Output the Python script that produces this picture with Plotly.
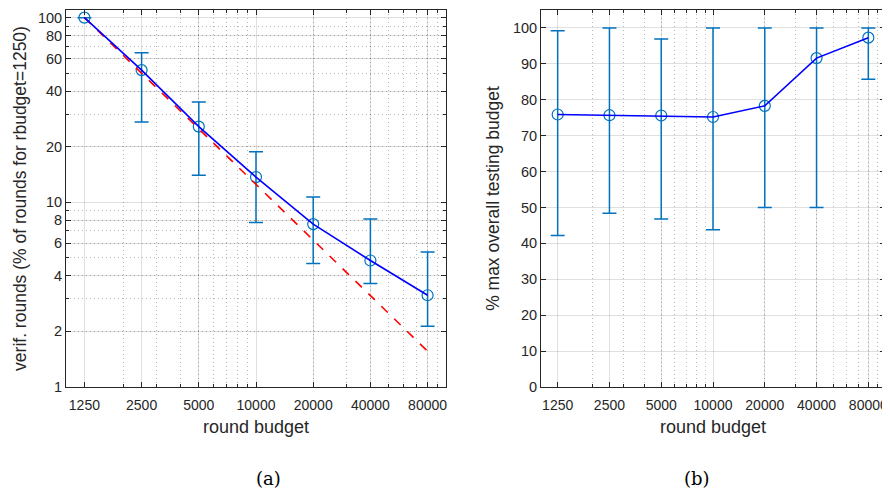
import plotly.graph_objects as go

budgets = [1250, 2500, 5000, 10000, 20000, 40000, 80000]
tick_labels = ["1250", "2500", "5000", "10000", "20000", "40000", "80000"]

# (a) verification rounds, % of rounds for rbudget=1250
rounds_mean = [100, 52, 25.7, 13.7, 7.62, 4.84, 3.14]
rounds_upper = [100, 64.6, 34.9, 18.8, 10.7, 8.11, 5.39]
rounds_lower = [100, 27.2, 14.0, 7.78, 4.66, 3.63, 2.13]
ideal = [100, 50, 25, 12.5, 6.25, 3.125, 1.5625]

# (b) % of max overall testing budget
budget_mean = [75.9, 75.7, 75.6, 75.2, 78.3, 91.6, 97.3]
budget_upper = [99.2, 100, 96.9, 100, 100, 100, 100]
budget_lower = [42.2, 48.4, 46.8, 43.8, 50.0, 50.0, 85.7]

left_yticks = [1, 2, 4, 6, 8, 10, 20, 40, 60, 80, 100]
right_yticks = [0, 10, 20, 30, 40, 50, 60, 70, 80, 90, 100]
x_minor = [2000, 3000, 4000, 5000, 6000, 7000, 8000, 9000,
           20000, 30000, 40000, 50000, 60000, 70000, 80000, 90000]
y_minor = [2, 3, 4, 5, 6, 7, 8, 9, 20, 30, 40, 50, 60, 70, 80, 90]

EB = "#0072BD"
FONT = "Liberation Sans, Arial, sans-serif"
TXT = "#262626"
GRID = "rgba(0,0,0,0.12)"
MGRID = "rgba(0,0,0,0.28)"
AX = "#262626"
DOT = "1px,3px"

# the page body has an 8px margin: figure is placed at (8, 8)
OFF = 8
W, H = 890 - OFF, 488 - OFF


def px(x):
    return (x - OFF) / W


def py(y):
    return 1 - (y - OFF) / H


fig = go.Figure()

# left panel
fig.add_trace(go.Scatter(
    x=budgets, y=rounds_mean, mode="markers",
    marker=dict(symbol="circle-open", size=11, color=EB, line=dict(width=1.2)),
    error_y=dict(type="data", symmetric=False,
                 array=[u - m for u, m in zip(rounds_upper, rounds_mean)],
                 arrayminus=[m - l for m, l in zip(rounds_mean, rounds_lower)],
                 color=EB, thickness=1.5, width=7),
    xaxis="x", yaxis="y", showlegend=False))
fig.add_trace(go.Scatter(
    x=budgets, y=ideal, mode="lines",
    line=dict(color="red", width=1.6, dash="dash"),
    xaxis="x", yaxis="y", showlegend=False))
fig.add_trace(go.Scatter(
    x=budgets, y=rounds_mean, mode="lines",
    line=dict(color="blue", width=1.6),
    xaxis="x", yaxis="y", showlegend=False))

# right panel
fig.add_trace(go.Scatter(
    x=budgets, y=budget_mean, mode="markers",
    marker=dict(symbol="circle-open", size=11, color=EB, line=dict(width=1.2)),
    error_y=dict(type="data", symmetric=False,
                 array=[u - m for u, m in zip(budget_upper, budget_mean)],
                 arrayminus=[m - l for m, l in zip(budget_mean, budget_lower)],
                 color=EB, thickness=1.5, width=7),
    xaxis="x2", yaxis="y2", showlegend=False))
fig.add_trace(go.Scatter(
    x=budgets, y=budget_mean, mode="lines",
    line=dict(color="blue", width=1.6),
    xaxis="x2", yaxis="y2", showlegend=False))

common_x = dict(
    type="log", range=[3, 5], tickmode="array", tickvals=budgets, ticktext=tick_labels,
    showgrid=True, gridcolor=GRID, gridwidth=1, automargin=False,
    ticks="inside", ticklen=5, tickcolor=AX, showline=True, linecolor=AX, linewidth=1,
    mirror="ticks", zeroline=False, ticklabelstandoff=5,
    tickfont=dict(family=FONT, size=14, color=TXT),
    minor=dict(tickvals=x_minor, showgrid=True, griddash=DOT, gridcolor=MGRID,
               ticks="inside", ticklen=3, tickcolor=AX),
    title=dict(text="round budget", font=dict(family=FONT, size=18, color=TXT), standoff=8),
)

fig.update_layout(
    width=W, height=H,
    margin=dict(l=0, r=0, t=0, b=0),
    paper_bgcolor="white", plot_bgcolor="white",
    xaxis=dict(domain=[px(66), px(446)], anchor="y", **common_x),
    xaxis2=dict(domain=[px(541), px(885)], anchor="y2", **common_x),
    yaxis=dict(
        domain=[py(387), py(10)], anchor="x", automargin=False,
        type="log", range=[0, 2.0414], tickmode="array", tickvals=left_yticks,
        ticktext=[str(v) for v in left_yticks],
        showgrid=True, gridcolor=GRID, ticks="inside", ticklen=5, tickcolor=AX,
        showline=True, linecolor=AX, linewidth=1, mirror="ticks", zeroline=False,
        tickfont=dict(family=FONT, size=14.5, color=TXT),
        minor=dict(tickvals=y_minor, showgrid=True, griddash=DOT, gridcolor=MGRID,
                   ticks="inside", ticklen=3, tickcolor=AX),
        title=dict(text="verif. rounds (% of rounds for rbudget=1250)",
                   font=dict(family=FONT, size=17.5, color=TXT), standoff=6),
    ),
    yaxis2=dict(
        domain=[py(387), py(10)], anchor="x2", automargin=False,
        range=[0, 105], tickmode="array", tickvals=right_yticks,
        showgrid=True, gridcolor=GRID, ticks="inside", ticklen=5, tickcolor=AX,
        showline=True, linecolor=AX, linewidth=1, mirror="ticks", zeroline=False,
        tickfont=dict(family=FONT, size=14.5, color=TXT),
        title=dict(text="% max overall testing budget",
                   font=dict(family=FONT, size=17.5, color=TXT), standoff=8),
    ),
    annotations=[
        dict(text="(a)", x=px(268), y=py(478), xref="paper", yref="paper",
             xanchor="center", yanchor="middle", showarrow=False,
             font=dict(family="DejaVu Serif, serif", size=18, color="black")),
        dict(text="(b)", x=px(697), y=py(478), xref="paper", yref="paper",
             xanchor="center", yanchor="middle", showarrow=False,
             font=dict(family="DejaVu Serif, serif", size=18, color="black")),
    ],
)

fig.write_html("out.html")
